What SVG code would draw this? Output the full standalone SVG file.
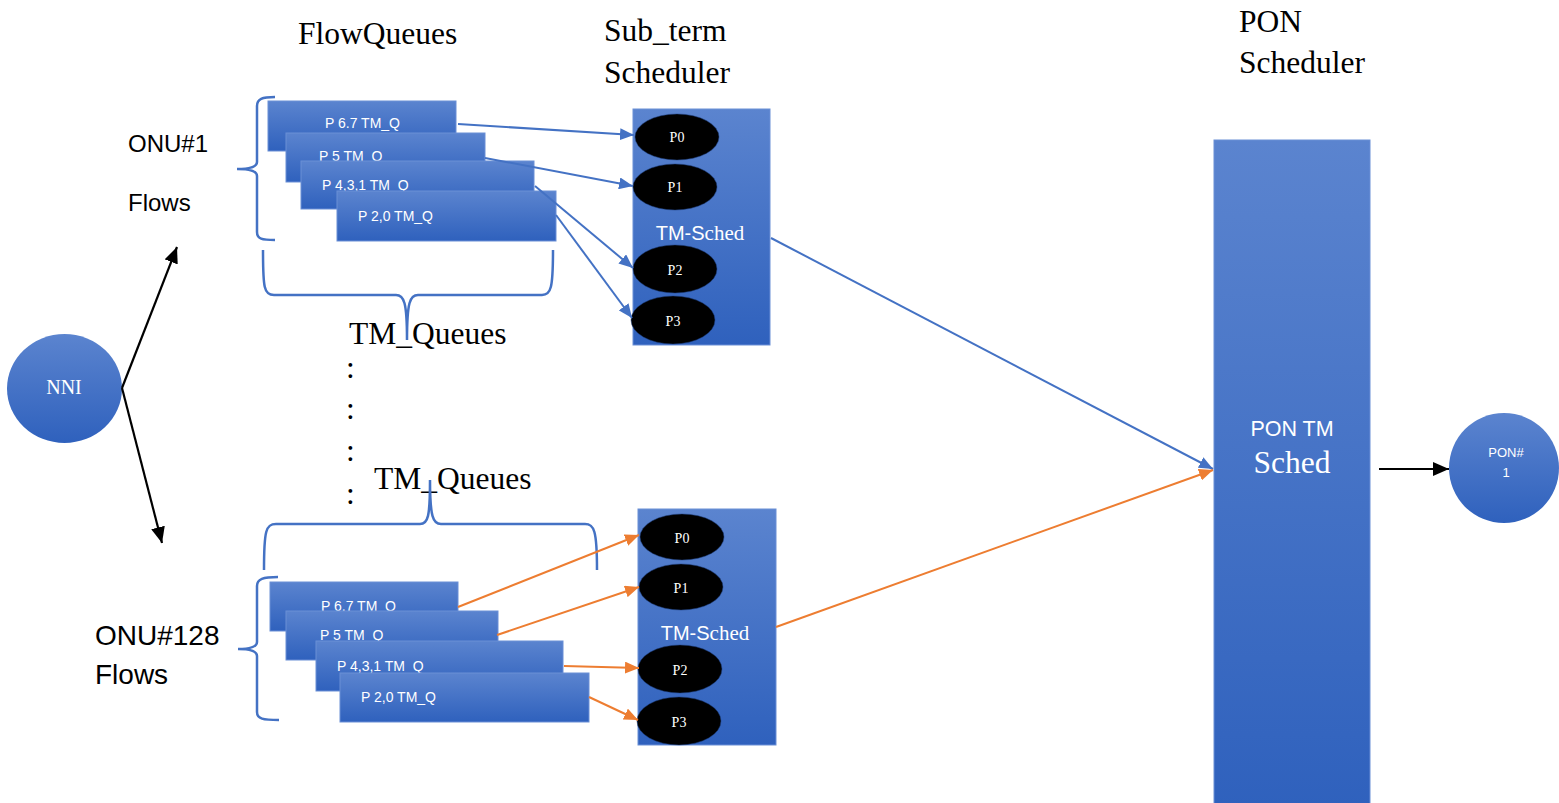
<svg xmlns="http://www.w3.org/2000/svg" width="1559" height="803" viewBox="0 0 1559 803">
<defs>
<linearGradient id="gb" x1="0" y1="0" x2="0" y2="1">
<stop offset="0" stop-color="#5b84cf"/>
<stop offset="1" stop-color="#2f61bd"/>
</linearGradient>
<marker id="ab" markerUnits="userSpaceOnUse" markerWidth="14" markerHeight="12" refX="14" refY="6" orient="auto"><path d="M0,0 L14,6 L0,12 z" fill="#4472c4"/></marker>
<marker id="ao" markerUnits="userSpaceOnUse" markerWidth="14" markerHeight="12" refX="14" refY="6" orient="auto"><path d="M0,0 L14,6 L0,12 z" fill="#ed7d31"/></marker>
<marker id="ak" markerUnits="userSpaceOnUse" markerWidth="16" markerHeight="14" refX="16" refY="7" orient="auto"><path d="M0,0 L16,7 L0,14 z" fill="#000"/></marker>
</defs>
<style>
.q{fill:url(#gb);stroke:#6a8fd6;stroke-width:1}
.qt{font-family:"Liberation Sans",Arial,sans-serif;font-size:14px;fill:#fff}
.el{fill:#000;stroke:#1d3d7a;stroke-width:0.5}
.pt{font-family:"Liberation Serif","Times New Roman",serif;font-size:14px;fill:#fff;text-anchor:middle}
.ser{font-family:"Liberation Serif","Times New Roman",serif;font-size:31.5px;fill:#000}
.san{font-family:"Liberation Sans",Arial,sans-serif;fill:#000}
.br{fill:none;stroke:#4472c4;stroke-width:2.5}
.cb{stroke:#4472c4;stroke-width:2;fill:none;marker-end:url(#ab)}
.co{stroke:#ed7d31;stroke-width:2;fill:none;marker-end:url(#ao)}
.ck{stroke:#000;stroke-width:2.2;fill:none;marker-end:url(#ak)}
.wt{fill:#fff;text-anchor:middle}
</style>

<!-- Titles -->
<text class="ser" x="298" y="44">FlowQueues</text>
<text class="ser" x="604" y="41">Sub_term</text>
<text class="ser" x="604" y="83">Scheduler</text>
<text class="ser" x="1239" y="32">PON</text>
<text class="ser" x="1239" y="73">Scheduler</text>

<!-- Labels -->
<text class="san" x="128" y="152" font-size="24">ONU#1</text>
<text class="san" x="128" y="211" font-size="24">Flows</text>
<text class="san" x="95" y="645" font-size="28">ONU#128</text>
<text class="san" x="95" y="684" font-size="28">Flows</text>
<text class="ser" x="349" y="344">TM_Queues</text>
<text class="ser" x="374" y="489">TM_Queues</text>
<text class="ser" x="346" y="378">:</text>
<text class="ser" x="346" y="419">:</text>
<text class="ser" x="346" y="461">:</text>
<text class="ser" x="346" y="504">:</text>

<!-- Braces -->
<g id="braces">
<path class="br" d="M275,97 C262,97 257,99 257,106 L257,162 C257,166 252,169 237,169 C252,169 257,172 257,176 L257,232 C257,239 262,240 275,240"/>
<path class="br" d="M263,250 C263,288 264,295 274,295 L396,295 C404,295 407,302 407,340 C407,302 410,295 418,295 L542,295 C551,295 553,288 553,250"/>
<path class="br" d="M264,570 C264,530 266,524 276,524 L420,524 C428,524 430,517 430,480 C430,517 433,524 441,524 L585,524 C594,524 597,530 597,570"/>
<path class="br" d="M278,577 C263,577 257,579 257,586 L257,642 C257,646 252,649 238,649 C252,649 257,652 257,656 L257,712 C257,719 263,720 279,720"/>
</g>

<!-- ONU#1 queues -->
<g id="onu1-queues">
<rect class="q" x="268" y="101" width="188" height="50"/>
<text class="qt" x="325" y="128">P 6.7 TM_Q</text>
<rect class="q" x="286" y="133" width="199" height="49"/>
<text class="qt" x="319" y="161">P 5 TM_Q</text>
<rect class="q" x="301" y="161" width="233" height="48"/>
<text class="qt" x="322" y="190">P 4,3,1 TM_Q</text>
<rect class="q" x="337" y="191" width="219" height="50"/>
<text class="qt" x="358" y="221">P 2,0 TM_Q</text>
</g>

<!-- ONU#128 queues -->
<g id="onu128-queues">
<rect class="q" x="270" y="582" width="188" height="49"/>
<text class="qt" x="321" y="611">P 6.7 TM_Q</text>
<rect class="q" x="286" y="611" width="212" height="49"/>
<text class="qt" x="320" y="640">P 5 TM_Q</text>
<rect class="q" x="316" y="641" width="247" height="50"/>
<text class="qt" x="337" y="671">P 4,3,1 TM_Q</text>
<rect class="q" x="340" y="673" width="249" height="49"/>
<text class="qt" x="361" y="702">P 2,0 TM_Q</text>
</g>

<!-- Top TM-Sched -->
<g id="tm-sched-1">
<rect class="q" x="633" y="109" width="137" height="236"/>
<text x="700" y="240" class="wt"><tspan font-family="Liberation Sans,Arial,sans-serif" font-size="20">TM-S</tspan><tspan font-family="Liberation Serif,Times New Roman,serif" font-size="21">ched</tspan></text>
<ellipse class="el" cx="677" cy="137" rx="42" ry="23"/>
<text class="pt" x="677" y="142">P0</text>
<ellipse class="el" cx="675" cy="187" rx="42" ry="23"/>
<text class="pt" x="675" y="192">P1</text>
<ellipse class="el" cx="675" cy="269" rx="42" ry="24"/>
<text class="pt" x="675" y="275">P2</text>
<ellipse class="el" cx="673" cy="320" rx="42" ry="24"/>
<text class="pt" x="673" y="326">P3</text>
</g>

<!-- Bottom TM-Sched -->
<g id="tm-sched-128">
<rect class="q" x="638" y="509" width="138" height="236"/>
<text x="705" y="640" class="wt"><tspan font-family="Liberation Sans,Arial,sans-serif" font-size="20">TM-S</tspan><tspan font-family="Liberation Serif,Times New Roman,serif" font-size="21">ched</tspan></text>
<ellipse class="el" cx="682" cy="537" rx="42" ry="23"/>
<text class="pt" x="682" y="543">P0</text>
<ellipse class="el" cx="681" cy="587" rx="42" ry="23"/>
<text class="pt" x="681" y="593">P1</text>
<ellipse class="el" cx="680" cy="669" rx="42" ry="24"/>
<text class="pt" x="680" y="675">P2</text>
<ellipse class="el" cx="679" cy="721" rx="42" ry="24"/>
<text class="pt" x="679" y="727">P3</text>
</g>

<!-- PON TM Sched -->
<g id="pon-tm-sched">
<rect class="q" x="1214" y="140" width="156" height="670"/>
<text class="wt" x="1292" y="436" font-family="Liberation Sans,Arial,sans-serif" font-size="21.5">PON TM</text>
<text class="wt" x="1292" y="473" font-family="Liberation Serif,Times New Roman,serif" font-size="31.5">Sched</text>
</g>

<!-- NNI -->
<g id="nni">
<ellipse cx="64.5" cy="388.5" rx="57.5" ry="54.5" fill="url(#gb)"/>
<text class="wt" x="64" y="394" font-family="Liberation Serif,Times New Roman,serif" font-size="20">NNI</text>
</g>

<!-- PON#1 -->
<g id="pon1">
<circle cx="1504" cy="468" r="55" fill="url(#gb)"/>
<text class="wt" x="1506" y="457" font-family="Liberation Sans,Arial,sans-serif" font-size="13">PON#</text>
<text class="wt" x="1506" y="477" font-family="Liberation Sans,Arial,sans-serif" font-size="13">1</text>
</g>

<!-- Connectors -->
<g id="connectors">
<line class="cb" x1="458" y1="124" x2="634" y2="135"/>
<line class="cb" x1="485" y1="158" x2="633" y2="186"/>
<line class="cb" x1="535" y1="186" x2="633" y2="268"/>
<line class="cb" x1="556" y1="215" x2="632" y2="318"/>
<line class="cb" x1="771" y1="238" x2="1213" y2="469"/>
<line class="co" x1="458" y1="607" x2="639" y2="535"/>
<line class="co" x1="497" y1="635" x2="639" y2="587"/>
<line class="co" x1="564" y1="666" x2="639" y2="668"/>
<line class="co" x1="589" y1="697" x2="638" y2="720"/>
<line class="co" x1="776" y1="627" x2="1213" y2="470"/>
<line class="ck" x1="1379" y1="469" x2="1449" y2="469"/>
<line class="ck" x1="122" y1="388" x2="177" y2="247"/>
<line class="ck" x1="122" y1="388" x2="162" y2="543"/>
</g>
</svg>
